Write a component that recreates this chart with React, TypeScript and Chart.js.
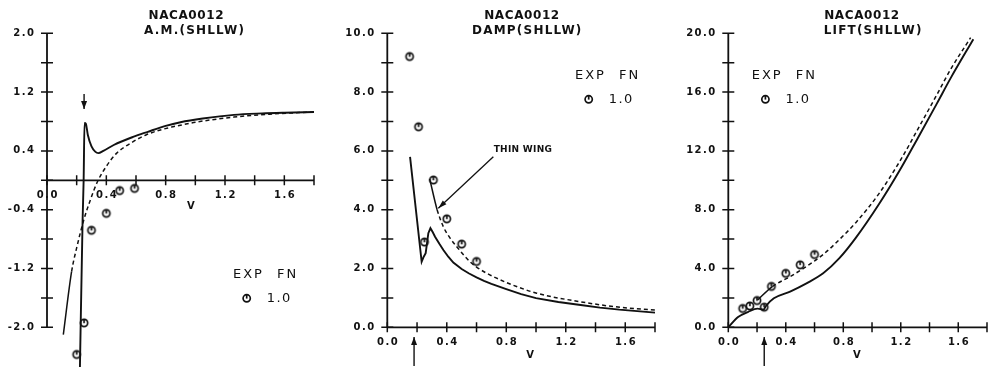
import React, { useEffect, useRef } from 'react';
import { Chart, registerables } from 'chart.js';

Chart.register(...registerables);

// ---------------- DATA ----------------
// Panel 1: A.M.(SHLLW)
const amSolidV = [0.222, 0.240, 0.247, 0.253, 0.262, 0.275, 0.300, 0.325, 0.346, 0.380, 0.450, 0.580, 0.680, 0.800, 0.900, 1.050, 1.260, 1.450, 1.600, 1.800];
const amSolidY = [-2.54, -0.54, 0.00, 0.78, 0.77, 0.62, 0.46, 0.39, 0.37, 0.40, 0.48, 0.59, 0.66, 0.74, 0.79, 0.84, 0.89, 0.91, 0.92, 0.93];
const amThinV = [0.110, 0.166, 0.200, 0.245, 0.290, 0.340, 0.400, 0.470, 0.560, 0.670, 0.830, 0.900, 1.000, 1.260, 1.500, 1.800];
const amThinY = [-2.10, -1.24, -0.92, -0.56, -0.28, -0.02, 0.19, 0.37, 0.50, 0.62, 0.72, 0.75, 0.79, 0.86, 0.90, 0.93];
const amExpV = [0.20, 0.25, 0.30, 0.40, 0.49, 0.59];
const amExpY = [-2.37, -1.94, -0.68, -0.45, -0.14, -0.11];
const amYTicks = [-2.0, -1.6, -1.2, -0.8, -0.4, 0, 0.4, 0.8, 1.2, 1.6, 2.0];
const amYLabels = [2.0, 1.2, 0.4, -0.4, -1.2, -2.0];

// Panel 2: DAMP(SHLLW)
const dampSolidV = [0.153, 0.231, 0.245, 0.258, 0.276, 0.290, 0.305, 0.321, 0.350, 0.377, 0.410, 0.444, 0.500, 0.550, 0.600, 0.650, 0.700, 0.800, 0.900, 1.000, 1.150, 1.300, 1.430, 1.560, 1.680, 1.800];
const dampSolidY = [5.80, 2.23, 2.40, 2.52, 3.20, 3.37, 3.24, 3.08, 2.84, 2.63, 2.40, 2.20, 1.98, 1.83, 1.70, 1.58, 1.48, 1.30, 1.13, 0.99, 0.86, 0.76, 0.67, 0.60, 0.55, 0.50];
const dampThinV = [0.285, 0.335, 0.377, 0.420, 0.467, 0.556, 0.600, 0.668, 0.803, 1.005, 1.296, 1.565, 1.800];
const dampThinY = [5.05, 4.00, 3.42, 3.05, 2.74, 2.23, 2.05, 1.84, 1.52, 1.16, 0.87, 0.68, 0.59];
const dampExpV = [0.15, 0.21, 0.25, 0.31, 0.40, 0.50, 0.60];
const dampExpY = [9.21, 6.82, 2.90, 5.01, 3.69, 2.83, 2.24];
const dampYTicks = [0, 1, 2, 3, 4, 5, 6, 7, 8, 9, 10];
const dampYLabels = [0, 2, 4, 6, 8, 10];

// Panel 3: LIFT(SHLLW)
const liftSolidV = [0, 0.068, 0.136, 0.204, 0.245, 0.262, 0.317, 0.430, 0.544, 0.660, 0.773, 0.887, 1.050, 1.200, 1.320, 1.450, 1.550, 1.705];
const liftSolidY = [0, 0.70, 1.04, 1.27, 1.20, 1.45, 1.97, 2.43, 2.99, 3.67, 4.70, 6.08, 8.40, 10.80, 12.90, 15.20, 17.00, 19.60];
const liftThinV = [0.204, 0.306, 0.430, 0.544, 0.660, 0.773, 0.887, 1.046, 1.200, 1.320, 1.450, 1.550, 1.686];
const liftThinY = [1.86, 2.77, 3.45, 4.14, 4.95, 5.97, 7.12, 9.06, 11.40, 13.50, 15.80, 17.60, 19.70];
const liftExpV = [0.10, 0.15, 0.20, 0.25, 0.30, 0.40, 0.50, 0.60];
const liftExpY = [1.28, 1.45, 1.82, 1.37, 2.78, 3.67, 4.25, 4.95];
const liftYTicks = [0, 2, 4, 6, 8, 10, 12, 14, 16, 18, 20];
const liftYLabels = [0, 4, 8, 12, 16, 20];

// shared x axis
const xTicks = [0, 0.2, 0.4, 0.6, 0.8, 1.0, 1.2, 1.4, 1.6, 1.8];
const xLabels = [0, 0.4, 0.8, 1.2, 1.6];

// ---------------- STYLE / LAYOUT ----------------
const INK = '#111';
const FONT = '"DejaVu Sans", "Liberation Sans", sans-serif';
const H = 370;

type Panel = {
  left: number; width: number;
  area: { l: number; t: number; r: number; b: number };
  xMax: number; yMin: number; yMax: number; axisMin: number;
  yTicks: number[]; yLabels: number[];
  titles: string[]; titleX: number[];
  solid: [number[], number[]]; thin: [number[], number[]]; exp: [number[], number[]];
  smoothSolid: boolean;
  legend: { x: number; y: number };
  arrow: { v: number; dir: 'up' | 'down'; y0: number; y1: number };
  vLabel: { v: number; dy: number };
  note?: { text: string; tv: number; ty: number; av0: number; ay0: number; av1: number; ay1: number };
};

const panels: Panel[] = [
  {
    left: 0, width: 330, area: { l: 47, t: 33.3, r: 314, b: 364.05 },
    xMax: 1.8, yMin: -2.5, yMax: 2.0, axisMin: -2.0, yTicks: amYTicks, yLabels: amYLabels,
    titles: ['NACA0012', 'A.M.(SHLLW)'], titleX: [186, 194],
    solid: [amSolidV, amSolidY], thin: [amThinV, amThinY], exp: [amExpV, amExpY],
    smoothSolid: true,
    legend: { x: 233, y: 275 },
    arrow: { v: 0.25, dir: 'down', y0: 94, y1: 109 },
    vLabel: { v: 0.97, dy: 26 },
  },
  {
    left: 330, width: 330, area: { l: 57.3, t: 33.3, r: 325, b: 327.3 },
    xMax: 1.8, yMin: 0, yMax: 10, axisMin: 0, yTicks: dampYTicks, yLabels: dampYLabels,
    titles: ['NACA0012', 'DAMP(SHLLW)'], titleX: [191.7, 196.7],
    solid: [dampSolidV, dampSolidY], thin: [dampThinV, dampThinY], exp: [dampExpV, dampExpY],
    smoothSolid: false,
    legend: { x: 245, y: 76 },
    arrow: { v: 0.18, dir: 'up', y0: 366, y1: 337 },
    vLabel: { v: 0.96, dy: 28 },
    note: { text: 'THIN WING', tv: 0.715, ty: 6.03, av0: 0.713, ay0: 5.80, av1: 0.343, ay1: 4.05 },
  },
  {
    left: 660, width: 332, area: { l: 68.3, t: 33.3, r: 332, b: 327.3 },
    xMax: 1.8, yMin: 0, yMax: 20, axisMin: 0, yTicks: liftYTicks, yLabels: liftYLabels,
    titles: ['NACA0012', 'LIFT(SHLLW)'], titleX: [201.7, 212.5],
    solid: [liftSolidV, liftSolidY], thin: [liftThinV, liftThinY], exp: [liftExpV, liftExpY],
    smoothSolid: true,
    legend: { x: 91.7, y: 76 },
    arrow: { v: 0.25, dir: 'up', y0: 366, y1: 337 },
    vLabel: { v: 0.894, dy: 28 },
  },
];

function drawSymbol(g: CanvasRenderingContext2D, cx: number, cy: number) {
  const r = 3.6;
  g.save();
  g.strokeStyle = INK;
  g.lineWidth = 1.7;
  g.setLineDash([]);
  g.beginPath();
  g.arc(cx, cy, r, 0, Math.PI * 2);
  g.stroke();
  g.beginPath();
  g.moveTo(cx, cy - r);
  g.lineTo(cx, cy + 0.3);
  g.stroke();
  g.restore();
}

function makeSymbol(): HTMLCanvasElement {
  const c = document.createElement('canvas');
  c.width = 12; c.height = 12;
  const g = c.getContext('2d')!;
  drawSymbol(g, 6, 6);
  return c;
}

function text(ctx: CanvasRenderingContext2D, s: string, x: number, y: number, font: string, align: CanvasTextAlign, spacing = 0) {
  ctx.save();
  ctx.font = font;
  ctx.textAlign = align;
  ctx.textBaseline = 'middle';
  (ctx as any).letterSpacing = spacing + 'px';
  ctx.fillStyle = INK;
  let xx = x;
  if (align === 'right') xx += spacing;
  if (align === 'center') xx += spacing / 2;
  ctx.fillText(s, xx, y);
  ctx.restore();
}

function makeDecor(p: Panel) {
  return {
    id: 'decor' + p.left,
    afterDatasetsDraw(chart: any) {
      const ctx: CanvasRenderingContext2D = chart.ctx;
      const xs = chart.scales.x;
      const ys = chart.scales.y;
      const X = (v: number) => xs.getPixelForValue(v);
      const Y = (v: number) => ys.getPixelForValue(v);
      const axisY = Y(Math.max(0, p.axisMin));
      const axisX = X(0);
      ctx.save();
      ctx.strokeStyle = INK;
      ctx.lineWidth = 1.8;
      ctx.setLineDash([]);
      // axes
      ctx.beginPath();
      ctx.moveTo(axisX, Y(p.axisMin));
      ctx.lineTo(axisX, Y(p.yMax));
      ctx.moveTo(X(0), axisY);
      ctx.lineTo(X(p.xMax), axisY);
      ctx.stroke();
      // ticks
      ctx.lineWidth = 1.5;
      ctx.beginPath();
      for (const t of xTicks) {
        if (t > p.xMax + 1e-9) continue;
        ctx.moveTo(X(t), axisY - 5);
        ctx.lineTo(X(t), axisY + 5);
      }
      for (const t of p.yTicks) {
        ctx.moveTo(axisX - 6, Y(t));
        ctx.lineTo(axisX + 6, Y(t));
      }
      ctx.stroke();
      ctx.restore();

      const tickFont = 'bold 10px ' + FONT;
      for (const t of xLabels) text(ctx, t.toFixed(1), X(t), axisY + 15, tickFont, 'center', 1.5);
      for (const t of p.yLabels) text(ctx, t.toFixed(1), axisX - 13, Y(t), tickFont, 'right', 1.5);

      // axis name
      text(ctx, 'V', X(p.vLabel.v), axisY + p.vLabel.dy, 'bold 10px ' + FONT, 'center');

      // titles
      text(ctx, p.titles[0], p.titleX[0], 16, 'bold 12px ' + FONT, 'center', 0.6);
      text(ctx, p.titles[1], p.titleX[1], 31, 'bold 12px ' + FONT, 'center', 1.2);

      // legend
      const lg = p.legend;
      text(ctx, 'EXP', lg.x, lg.y, '13px ' + FONT, 'left', 2);
      text(ctx, 'FN', lg.x + 44, lg.y, '13px ' + FONT, 'left', 2);
      drawSymbol(ctx, lg.x + 13.7, lg.y + 23.3);
      text(ctx, '1.0', lg.x + 33.7, lg.y + 23.3, '13px ' + FONT, 'left', 1.5);

      // marker arrow
      const a = p.arrow;
      const ax = X(a.v);
      ctx.save();
      ctx.strokeStyle = INK;
      ctx.fillStyle = INK;
      ctx.lineWidth = 1.4;
      ctx.beginPath();
      ctx.moveTo(ax, a.y0);
      ctx.lineTo(ax, a.y1);
      ctx.stroke();
      const dir = a.dir === 'down' ? 1 : -1;
      ctx.beginPath();
      ctx.moveTo(ax, a.y1);
      ctx.lineTo(ax - 3, a.y1 - dir * 8);
      ctx.lineTo(ax + 3, a.y1 - dir * 8);
      ctx.closePath();
      ctx.fill();
      ctx.restore();

      // note with arrow
      if (p.note) {
        const n = p.note;
        text(ctx, n.text, X(n.tv), Y(n.ty), 'bold 9px ' + FONT, 'left', 0.3);
        const x0 = X(n.av0), y0 = Y(n.ay0), x1 = X(n.av1), y1 = Y(n.ay1);
        ctx.save();
        ctx.strokeStyle = INK;
        ctx.fillStyle = INK;
        ctx.lineWidth = 1.3;
        ctx.beginPath();
        ctx.moveTo(x0, y0);
        ctx.lineTo(x1, y1);
        ctx.stroke();
        const ang = Math.atan2(y1 - y0, x1 - x0);
        const L = 9, w = 0.3;
        ctx.beginPath();
        ctx.moveTo(x1, y1);
        ctx.lineTo(x1 - L * Math.cos(ang - w), y1 - L * Math.sin(ang - w));
        ctx.lineTo(x1 - L * Math.cos(ang + w), y1 - L * Math.sin(ang + w));
        ctx.closePath();
        ctx.fill();
        ctx.restore();
      }
    },
  };
}

const pts = (xs: number[], ys: number[]) => xs.map((x, i) => ({ x, y: ys[i] }));

function PanelChart({ p }: { p: Panel }) {
  const ref = useRef<HTMLCanvasElement>(null);
  useEffect(() => {
    if (!ref.current) return;
    const sym = makeSymbol();
    const chart = new Chart(ref.current, {
      type: 'scatter',
      data: {
        datasets: [
          {
            data: pts(p.solid[0], p.solid[1]),
            showLine: true, borderColor: INK, borderWidth: 1.9, pointRadius: 0,
            ...(p.smoothSolid ? { cubicInterpolationMode: 'monotone' } : { tension: 0 }),
            clip: false, order: 2,
          } as any,
          {
            data: pts(p.thin[0], p.thin[1]),
            showLine: true, borderColor: INK, borderWidth: 1.5, pointRadius: 0,
            borderDash: [4, 3], cubicInterpolationMode: 'monotone', clip: false, order: 2,
            segment: { borderDash: (c: any) => (c.p0DataIndex === 0 ? [] : undefined) },
          } as any,
          {
            data: pts(p.exp[0], p.exp[1]),
            showLine: false, pointStyle: sym, pointRadius: 4, clip: false, order: 1,
          } as any,
        ],
      },
      options: {
        animation: false,
        responsive: false,
        devicePixelRatio: 1,
        events: [],
        layout: {
          padding: {
            left: p.area.l, top: p.area.t,
            right: p.width - p.area.r, bottom: H - p.area.b,
          },
        },
        scales: {
          x: { type: 'linear', min: 0, max: p.xMax, display: false },
          y: { type: 'linear', min: p.yMin, max: p.yMax, display: false },
        },
        plugins: { legend: { display: false }, tooltip: { enabled: false }, title: { display: false } },
      },
      plugins: [makeDecor(p)],
    });
    return () => chart.destroy();
  }, [p]);
  return (
    <canvas
      ref={ref}
      width={p.width}
      height={H}
      style={{ position: 'absolute', left: p.left, top: 0, width: p.width, height: H }}
    />
  );
}

export default function App() {
  return (
    <div style={{ position: 'absolute', left: 0, top: 0, width: 992, height: 370, background: '#fff', overflow: 'hidden' }}>
      {panels.map((p) => (
        <PanelChart key={p.left} p={p} />
      ))}
    </div>
  );
}
